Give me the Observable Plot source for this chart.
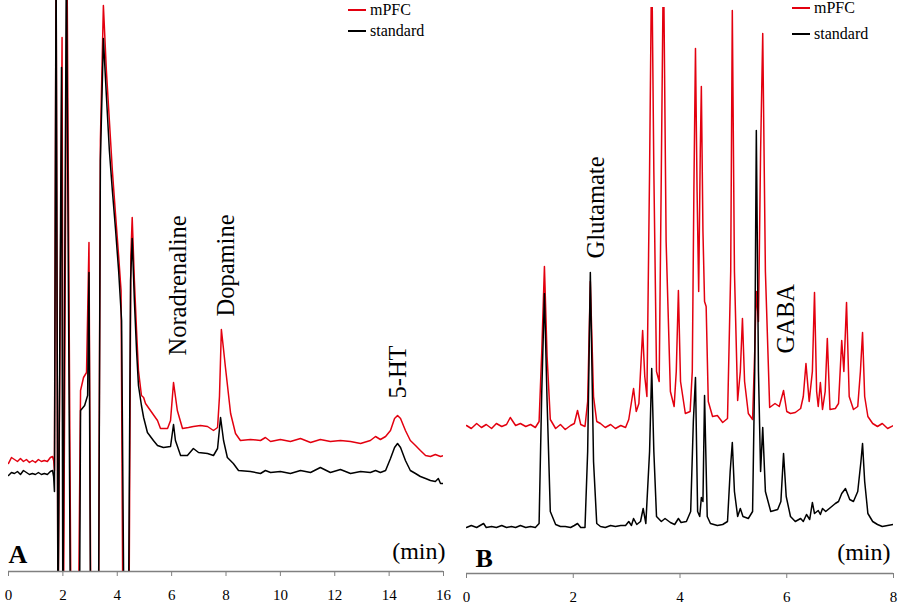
<!DOCTYPE html>
<html>
<head>
<meta charset="utf-8">
<script src="https://cdn.jsdelivr.net/npm/d3@7"></script>
<script src="https://cdn.jsdelivr.net/npm/@observablehq/plot@0.6"></script>
<style>
  body { margin: 0; background: #fff; }
  #wrap { position: relative; width: 900px; height: 605px; overflow: hidden; font-family: "Liberation Serif", "Times New Roman", Times, "DejaVu Serif", serif; }
  .panel { position: absolute; top: 0; }
  .leg { position: absolute; font-size: 16px; line-height: 16px; color: #000; white-space: nowrap; font-family: "Liberation Serif", "Times New Roman", Times, "DejaVu Serif", serif; }
  .leg span.sw { display: inline-block; width: 18px; height: 0; border-top: 2px solid; vertical-align: middle; margin-right: 4px; position: relative; top: -1px; }
</style>
</head>
<body>
<div id="wrap"></div>
<script>
// ---------- data (retention time in min, detector response in arbitrary units) ----------
const ticksA = [0, 2, 4, 6, 8, 10, 12, 14, 16];
const ticksB = [0, 2, 4, 6, 8];
const seriesNames = ["mPFC", "standard"];
const seriesColors = ["#e3000f", "#000000"];

// Panel A: catecholamines / 5-HT
const redA = [[0,108],[0.11,114],[0.22,112],[0.33,110],[0.44,113],[0.55,110],[0.66,112],[0.77,109],[0.88,111],[0.99,109],[1.10,112],[1.21,110],[1.32,111],[1.43,110],[1.54,114],[1.62,115],[1.66,111],[1.69,101],[1.75,620],[1.82,-60],[1.97,534],[2.02,-60],[2.15,620],[2.30,-60],[2.57,-60],[2.65,181],[2.76,194],[2.87,199],[2.96,329],[3.03,-60],[3.31,-60],[3.38,431],[3.49,566],[3.60,501],[3.71,451],[3.82,401],[3.94,356],[4.05,316],[4.14,281],[4.21,-60],[4.43,-60],[4.50,316],[4.55,354],[4.63,291],[4.71,241],[4.78,201],[4.89,176],[4.97,174],[5.04,168],[5.22,161],[5.48,151],[5.59,143],[5.85,143],[5.96,151],[6.07,189],[6.21,161],[6.40,143],[6.62,144],[6.80,145],[7.06,146],[7.32,145],[7.54,141],[7.69,144],[7.76,175],[7.83,242],[7.91,222],[7.98,204],[8.17,158],[8.35,138],[8.53,131],[8.90,132],[9.27,131],[9.45,134],[9.64,130],[10.00,132],[10.37,130],[10.74,133],[11.11,129],[11.47,132],[11.84,130],[12.21,131],[12.58,130],[12.95,128],[13.31,131],[13.50,135],[13.68,132],[13.87,135],[14.05,141],[14.20,153],[14.31,156],[14.42,153],[14.60,141],[14.78,131],[14.97,126],[15.15,121],[15.34,116],[15.52,115],[15.70,117],[15.89,115],[16.0,116]];
const blackA = [[0,96],[0.11,99],[0.22,98],[0.33,100],[0.44,97],[0.55,101],[0.66,99],[0.77,97],[0.88,98],[0.99,97],[1.10,99],[1.21,97],[1.32,98],[1.43,97],[1.54,100],[1.62,101],[1.66,95],[1.69,80],[1.75,620],[1.82,-60],[1.95,504],[2.00,-60],[2.13,620],[2.28,-60],[2.61,-60],[2.65,161],[2.80,166],[2.91,176],[2.96,299],[3.02,-60],[3.31,-60],[3.38,411],[3.49,533],[3.60,476],[3.71,421],[3.82,381],[3.94,341],[4.05,301],[4.16,251],[4.25,-60],[4.41,-60],[4.49,291],[4.55,333],[4.63,271],[4.71,221],[4.78,186],[4.89,166],[4.97,154],[5.11,139],[5.33,131],[5.48,126],[5.70,124],[5.96,125],[6.07,147],[6.14,131],[6.33,116],[6.58,116],[6.80,123],[6.99,119],[7.32,118],[7.54,116],[7.69,123],[7.80,154],[7.91,131],[8.05,114],[8.27,108],[8.46,101],[8.90,100],[9.27,98],[9.45,101],[9.64,99],[10.00,100],[10.37,98],[10.74,101],[11.11,99],[11.47,104],[11.84,99],[12.21,102],[12.58,98],[12.95,100],[13.31,99],[13.50,101],[13.68,99],[13.87,101],[14.05,113],[14.20,124],[14.31,128],[14.42,124],[14.60,111],[14.78,101],[14.97,98],[15.15,95],[15.34,93],[15.52,91],[15.70,90],[15.81,93],[15.89,88],[16.0,88]];
const peakNamesA = ["Noradrenaline", "Dopamine", "5-HT"];
const peakTimesA = [6.24, 8.00, 14.33];
const peakLabelLevelA = [216, 255, 173];

// Panel B: amino acids
const redB = [[0,146],[0.09,143],[0.19,148],[0.28,144],[0.37,147],[0.47,143],[0.56,148],[0.66,145],[0.75,147],[0.82,154],[0.92,146],[1.01,148],[1.11,145],[1.20,147],[1.29,144],[1.36,150],[1.41,220],[1.46,305],[1.51,215],[1.57,152],[1.67,143],[1.76,147],[1.85,142],[1.95,146],[2.02,148],[2.08,161],[2.14,147],[2.22,145],[2.27,170],[2.32,290],[2.38,175],[2.44,150],[2.51,148],[2.60,144],[2.70,147],[2.79,143],[2.89,146],[2.98,144],[3.04,152],[3.13,183],[3.18,160],[3.23,168],[3.30,241],[3.34,195],[3.38,175],[3.43,400],[3.47,620],[3.51,400],[3.56,200],[3.61,190],[3.65,400],[3.69,620],[3.74,330],[3.82,180],[3.89,165],[3.93,200],[3.97,281],[4.01,190],[4.10,158],[4.19,160],[4.23,200],[4.26,380],[4.29,523],[4.32,380],[4.35,280],[4.38,420],[4.40,485],[4.43,340],[4.46,270],[4.49,265],[4.53,170],[4.61,155],[4.70,156],[4.80,149],[4.89,153],[4.95,300],[4.98,561],[5.02,300],[5.08,171],[5.13,200],[5.17,253],[5.21,190],[5.28,158],[5.36,152],[5.40,220],[5.43,280],[5.47,250],[5.51,420],[5.55,538],[5.60,300],[5.68,164],[5.78,168],[5.86,165],[5.94,181],[6.00,160],[6.07,158],[6.16,159],[6.26,163],[6.31,175],[6.36,208],[6.42,170],[6.48,200],[6.52,279],[6.56,180],[6.59,165],[6.63,189],[6.67,162],[6.72,180],[6.76,233],[6.81,162],[6.91,163],[6.97,168],[7.03,231],[7.07,200],[7.12,269],[7.17,175],[7.25,162],[7.33,165],[7.38,200],[7.42,239],[7.46,175],[7.52,155],[7.61,148],[7.70,145],[7.79,148],[7.89,143],[8.0,146]];
const blackB = [[0,44],[0.09,46],[0.19,44],[0.32,48],[0.37,44],[0.47,45],[0.56,44],[0.66,46],[0.75,44],[0.84,45],[0.92,44],[1.01,46],[1.11,44],[1.20,45],[1.29,44],[1.36,48],[1.41,180],[1.46,278],[1.51,170],[1.57,60],[1.67,47],[1.76,45],[1.85,45],[1.95,44],[2.02,46],[2.08,48],[2.14,44],[2.22,44],[2.27,120],[2.32,299],[2.38,110],[2.44,48],[2.51,45],[2.60,44],[2.70,46],[2.79,45],[2.89,46],[2.98,46],[3.04,50],[3.09,46],[3.13,53],[3.19,47],[3.26,50],[3.31,63],[3.36,48],[3.43,120],[3.47,203],[3.51,120],[3.56,55],[3.65,50],[3.72,53],[3.82,49],[3.90,47],[3.97,53],[4.02,49],[4.12,50],[4.20,60],[4.25,150],[4.29,194],[4.33,60],[4.37,55],[4.40,74],[4.43,70],[4.46,176],[4.51,55],[4.57,48],[4.70,46],[4.80,47],[4.89,50],[4.94,100],[4.98,129],[5.02,80],[5.08,55],[5.13,63],[5.18,55],[5.28,53],[5.36,60],[5.40,200],[5.43,441],[5.47,200],[5.51,100],[5.55,144],[5.60,80],[5.70,60],[5.83,62],[5.89,70],[5.94,118],[5.99,75],[6.07,55],[6.16,50],[6.26,53],[6.31,50],[6.37,57],[6.43,52],[6.48,69],[6.52,58],[6.59,61],[6.63,57],[6.67,63],[6.73,60],[6.82,64],[6.91,68],[6.97,70],[7.03,78],[7.10,83],[7.18,72],[7.25,70],[7.33,80],[7.39,110],[7.42,128],[7.46,90],[7.52,58],[7.61,50],[7.70,47],[7.79,45],[7.89,46],[8.0,47]];
const peakNamesB = ["Glutamate", "GABA"];
const peakTimesB = [2.43, 5.99];
const peakLabelLevelB = [313, 218];

// ---------- drawing ----------
const serif = '"Liberation Serif", "Times New Roman", Times, "DejaVu Serif", serif';

function panel(o) {
  const labels = o.names.map((n, i) => ({name: n, t: o.times[i], v: o.levels[i]}));
  return Plot.plot({
    width: 450, height: 605,
    marginLeft: o.mL, marginRight: o.mR, marginTop: o.mT, marginBottom: o.mB,
    x: {domain: o.xDomain, label: null},
    y: {domain: o.yDomain, axis: null, label: null},
    style: {fontFamily: serif, background: "transparent", overflow: "visible", color: "#000"},
    marks: [
      Plot.line(o.red, {x: d => d[0], y: d => d[1], stroke: seriesColors[0], strokeWidth: 1.5, clip: true}),
      Plot.line(o.black, {x: d => d[0], y: d => d[1], stroke: seriesColors[1], strokeWidth: 1.5, clip: true}),
      Plot.ruleY([o.yDomain[0]], {stroke: "#808080", strokeWidth: 1.3}),
      Plot.axisX({ticks: o.ticks, label: null, tickSize: 5, tickPadding: 13, fontSize: 15, stroke: "#808080", fill: "#000", fontFamily: serif, tickFormat: d => String(d)}),
      Plot.text(labels, {x: "t", y: "v", text: "name", rotate: -90, textAnchor: "start", lineAnchor: "middle", fontSize: 24.5, fill: "#000", fontFamily: serif}),
      Plot.text([o.letter], {frameAnchor: "bottom-left", textAnchor: "start", lineAnchor: "bottom", dx: o.letterDx, dy: o.letterDy, fontSize: 26, fontWeight: "bold", fill: "#000", fontFamily: serif}),
      Plot.text(["(min)"], {frameAnchor: "bottom-right", textAnchor: "end", lineAnchor: "bottom", dx: o.minDx, dy: o.minDy, fontSize: 24, fill: "#000", fontFamily: serif})
    ]
  });
}

const wrap = document.getElementById("wrap");

const pA = panel({
  mL: 8, mR: 7, mT: 0, mB: 34, xDomain: [0, 16], yDomain: [0, 571], ticks: ticksA,
  red: redA, black: blackA, names: peakNamesA, times: peakTimesA, levels: peakLabelLevelA,
  letter: "A", letterDx: 0, letterDy: -9, minDx: 2, minDy: -13
});
pA.classList.add("panel"); pA.style.left = "0px";
wrap.appendChild(pA);

const pB = panel({
  mL: 16, mR: 7, mT: 7, mB: 32, xDomain: [0, 8], yDomain: [-2, 564], ticks: ticksB,
  red: redB, black: blackB, names: peakNamesB, times: peakTimesB, levels: peakLabelLevelB,
  letter: "B", letterDx: 9, letterDy: -7, minDx: -3, minDy: -14
});
pB.classList.add("panel"); pB.style.left = "450px";
wrap.appendChild(pB);

// legends
function legend(left, top, gap) {
  seriesNames.forEach((name, i) => {
    const d = document.createElement("div");
    d.className = "leg";
    d.style.left = left + "px";
    d.style.top = (top + i * gap) + "px";
    d.innerHTML = `<span class="sw" style="border-color:${seriesColors[i]}"></span>${name}`;
    wrap.appendChild(d);
  });
}
legend(348, 2, 21);
legend(792, 0, 26);
</script>
</body>
</html>
